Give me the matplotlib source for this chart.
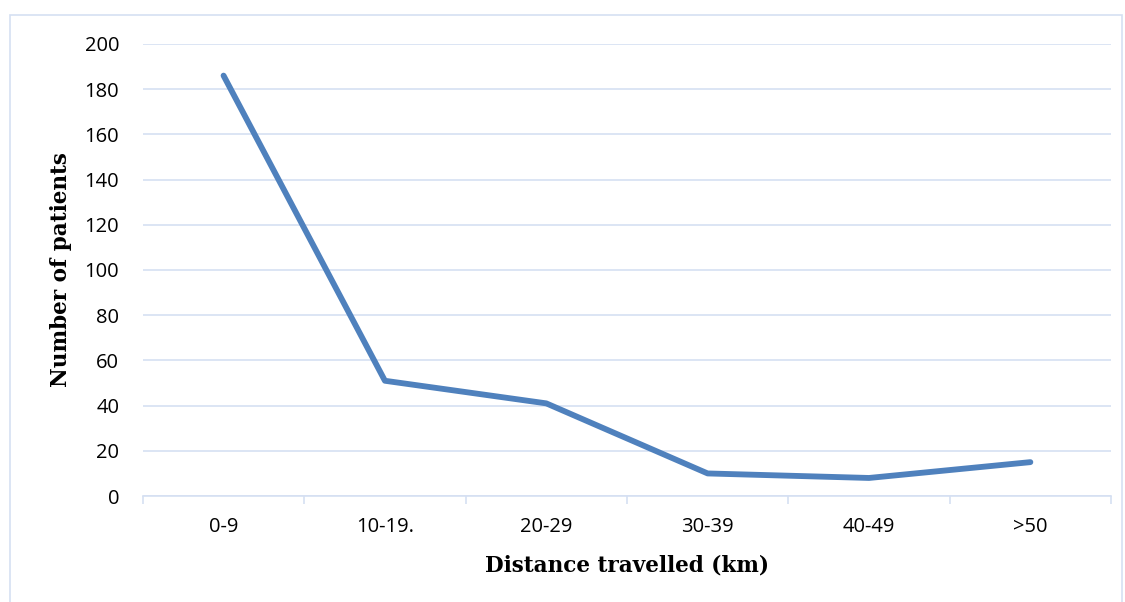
import matplotlib
matplotlib.use('Agg')
import matplotlib.pyplot as plt
from matplotlib.patches import Rectangle

# 数据
categories = ['0-9', '10-19.', '20-29', '30-39', '40-49', '>50']
patients = [186, 51, 41, 10, 8, 15]
yticks = [0, 20, 40, 60, 80, 100, 120, 140, 160, 180, 200]

grid_color = '#D5E0F2'

fig = plt.figure(figsize=(11.25, 6.02), dpi=100)
ax = fig.add_axes([0.127, 0.176, 0.8606, 0.751])

x = list(range(len(categories)))
ax.plot(x, patients, color='#4F81BD', linewidth=4.2, solid_capstyle='round',
        solid_joinstyle='round', zorder=3)

ax.set_xlim(-0.5, len(categories) - 0.5)
ax.set_ylim(0, 200)
ax.set_yticks(yticks)
ax.set_yticklabels([str(v) for v in yticks], family='Open Sans', fontsize=14.5)
ax.set_xticks(x)
ax.set_xticklabels(categories, family='Open Sans', fontsize=14.5)

# 横向网格线
ax.grid(axis='y', color=grid_color, linewidth=1.2)
ax.set_axisbelow(True)
for s in ['top', 'right', 'left']:
    ax.spines[s].set_visible(False)
ax.spines['bottom'].set_color(grid_color)
ax.spines['bottom'].set_linewidth(1.2)

# x轴刻度放在类别之间
ax.set_xticks([i - 0.5 for i in range(len(categories) + 1)], minor=True)
ax.tick_params(axis='x', which='major', length=0, pad=15)
ax.tick_params(axis='x', which='minor', length=6, color=grid_color, width=1.2)
ax.tick_params(axis='y', length=0, pad=17)

ax.set_xlabel('Distance travelled (km)', family='DejaVu Serif',
              fontweight='bold', fontsize=15.5, labelpad=13)
ax.set_ylabel('Number of patients', family='DejaVu Serif',
              fontweight='bold', fontsize=15.5, labelpad=9)

# 外边框
fig.patches.append(Rectangle((0.009, -0.01), 0.988, 0.985, transform=fig.transFigure,
                             fill=False, edgecolor=grid_color, linewidth=1.2))

fig.savefig('out.png', dpi=100)
